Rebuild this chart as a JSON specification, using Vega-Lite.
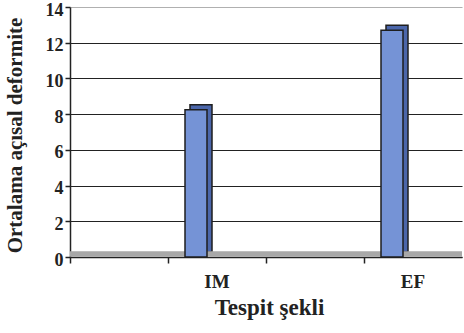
{
  "$schema": "https://vega.github.io/schema/vega-lite/v6.json",
  "width": 392,
  "height": 250,
  "autosize": "none",
  "padding": {"left": 70, "top": 7, "right": 2, "bottom": 76},
  "background": "white",
  "config": {
    "view": {"stroke": null},
    "axis": {
      "labelFont": "Liberation Serif",
      "titleFont": "Liberation Serif",
      "labelFontWeight": "bold",
      "titleFontWeight": "bold",
      "labelColor": "#222222",
      "titleColor": "#222222",
      "domainColor": "#222222",
      "tickColor": "#222222"
    }
  },
  "data": {"values": [
    {"Tespit": "IM", "deg": 8.25},
    {"Tespit": "EF", "deg": 12.7}
  ]},
  "layer": [
    {
      "mark": {"type": "bar", "width": 22, "xOffset": -16, "yOffset": -5, "fill": "#4b66aa", "stroke": "#1e1e1e", "strokeWidth": 1.5},
      "encoding": {
        "x": {
          "field": "Tespit",
          "type": "nominal",
          "scale": {"domain": ["", "IM", " ", "EF"], "paddingInner": 0, "paddingOuter": 0},
          "axis": {
            "title": "Tespit şekli",
            "titleFont": "Liberation Serif",
            "titleFontWeight": "bold",
            "titleFontSize": 23,
            "titleX": 199,
            "titleY": 50,
            "titleBaseline": "middle",
            "titleAlign": "center",
            "labelFont": "Liberation Serif",
            "labelFontWeight": "bold",
            "labelAngle": 0,
            "labelFontSize": 19,
            "labelBaseline": "middle",
            "labelPadding": 18,
            "labelOffset": 0,
            "labelOverlap": false,
            "tickSize": 6,
            "tickWidth": 1.5,
            "bandPosition": 0,
            "domainWidth": 1.5,
            "grid": false
          }
        },
        "y": {
          "field": "deg",
          "type": "quantitative",
          "scale": {"domain": [0, 14], "nice": false},
          "axis": {
            "title": "Ortalama açısal deformite",
            "titleFont": "Liberation Serif",
            "titleFontWeight": "bold",
            "titleFontSize": 21,
            "titleX": -55,
            "titleY": 128,
            "titleBaseline": "middle",
            "titleAlign": "center",
            "titleAngle": -90,
            "values": [0, 2, 4, 6, 8, 10, 12, 14],
            "tickCount": 20,
            "format": "d",
            "labelFont": "Liberation Serif",
            "labelFontWeight": "bold",
            "labelOverlap": false,
            "labelFontSize": 18,
            "labelOffset": 3,
            "labelPadding": 2,
            "tickSize": 5,
            "tickWidth": 1.5,
            "domainWidth": 1.5,
            "grid": true,
            "gridColor": {"condition": {"test": "datum.value == 14", "value": "#b0b0b0"}, "value": "#222222"},
            "gridWidth": 1.2
          }
        }
      }
    },
    {
      "mark": {"type": "rule", "color": "#a8a8a8", "strokeWidth": 5, "yOffset": -3},
      "encoding": {"y": {"datum": 0, "type": "quantitative"}}
    },
    {
      "mark": {"type": "bar", "width": 22, "xOffset": -21, "fill": "#7593d6", "stroke": "#1e1e1e", "strokeWidth": 1.5},
      "encoding": {
        "x": {"field": "Tespit", "type": "nominal"},
        "y": {"field": "deg", "type": "quantitative"}
      }
    }
  ]
}
